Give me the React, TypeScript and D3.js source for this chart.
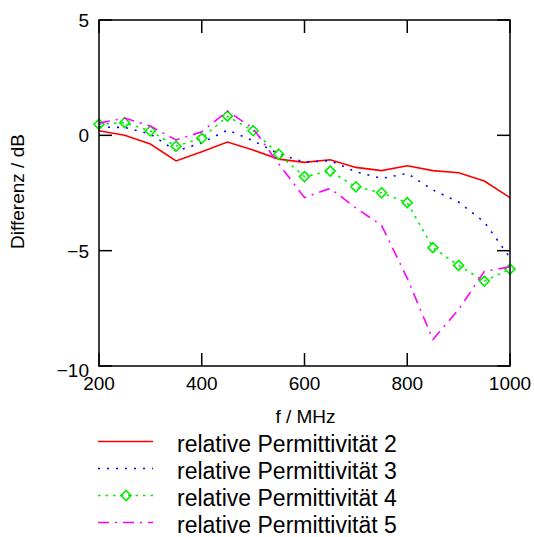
import React from "react";
import * as d3 from "d3";

// frequencies in MHz
const freqs = [200, 250, 300, 350, 400, 450, 500, 550, 600, 650, 700, 750, 800, 850, 900, 950, 1000];

// Differenz in dB for each relative permittivity
const perm2 = [0.2, 0.0, -0.38, -1.11, -0.71, -0.29, -0.64, -1.03, -1.17, -1.06, -1.39, -1.53, -1.32, -1.53, -1.62, -1.98, -2.7];
const perm3 = [0.36, 0.34, 0.06, -0.68, -0.33, 0.23, -0.23, -0.81, -1.16, -1.1, -1.58, -1.87, -1.65, -2.37, -2.89, -3.76, -5.3];
const perm4 = [0.48, 0.55, 0.19, -0.47, -0.13, 0.83, 0.2, -0.82, -1.79, -1.55, -2.23, -2.49, -2.92, -4.87, -5.64, -6.32, -5.8];
const perm5 = [0.53, 0.75, 0.4, -0.2, 0.15, 1.05, 0.3, -1.25, -2.7, -2.3, -3.15, -3.9, -6.2, -8.85, -7.55, -5.9, -5.7];

const xTicks = [200, 400, 600, 800, 1000];
const yTicks = [5, 0, -5, -10];

const seriesNames = [
  "relative Permittivität 2",
  "relative Permittivität 3",
  "relative Permittivität 4",
  "relative Permittivität 5",
];

const styles = [
  { color: "#ff0000", dash: "none", marker: false },
  { color: "#0000ff", dash: "2 7", marker: false },
  { color: "#00ee00", dash: "2.5 5", marker: true },
  { color: "#ff00ff", dash: "11 6 2 6", marker: false },
];

const width = 534;
const height = 537;
const margin = { top: 20, right: 24, bottom: 171, left: 99 };
const font = "'Liberation Sans', Arial, Helvetica, sans-serif";
const tickLen = 13;

function Diamond({ cx, cy, color }: { cx: number; cy: number; color: string }) {
  const r = 5;
  return (
    <path
      d={`M${cx},${cy - r}L${cx + r},${cy}L${cx},${cy + r}L${cx - r},${cy}Z`}
      fill="none"
      stroke={color}
      strokeWidth={1.6}
    />
  );
}

export default function App() {
  const x = d3
    .scaleLinear()
    .domain([200, 1000])
    .range([margin.left, width - margin.right]);
  const y = d3
    .scaleLinear()
    .domain([-10, 5])
    .range([height - margin.bottom, margin.top]);

  const all = [perm2, perm3, perm4, perm5];
  const line = d3
    .line<number>()
    .x((_, i) => x(freqs[i]))
    .y((d) => y(d));

  const x0 = x(200);
  const x1 = x(1000);
  const y0 = y(-10);
  const y1 = y(5);

  const legendX = 98;
  const legendY = 441.5;
  const legendStep = 27;

  return (
    <svg
      width={width}
      height={height}
      style={{ position: "absolute", left: 0, top: 0, background: "#fff" }}
      fontFamily={font}
    >
      {/* series */}
      {all.map((vals, si) => (
        <g key={si}>
          <path
            d={line(vals) || ""}
            fill="none"
            stroke={styles[si].color}
            strokeWidth={1.6}
            strokeDasharray={styles[si].dash}
          />
          {styles[si].marker &&
            vals.map((v, i) => (
              <Diamond key={i} cx={x(freqs[i])} cy={y(v)} color={styles[si].color} />
            ))}
        </g>
      ))}

      {/* frame */}
      <rect x={x0} y={y1} width={x1 - x0} height={y0 - y1} fill="none" stroke="#000" strokeWidth={1.5} />

      {/* x ticks, bottom and top, inward */}
      {xTicks.map((t) => (
        <g key={t}>
          <line x1={x(t)} x2={x(t)} y1={y0} y2={y0 - tickLen} stroke="#000" strokeWidth={1.5} />
          <line x1={x(t)} x2={x(t)} y1={y1} y2={y1 + tickLen} stroke="#000" strokeWidth={1.5} />
          <text x={x(t)} y={y0 + 24} textAnchor="middle" fontSize={19} fill="#000">
            {t}
          </text>
        </g>
      ))}

      {/* y ticks, left and right, inward */}
      {yTicks.map((t) => (
        <g key={t}>
          <line x1={x0} x2={x0 + tickLen} y1={y(t)} y2={y(t)} stroke="#000" strokeWidth={1.5} />
          <line x1={x1} x2={x1 - tickLen} y1={y(t)} y2={y(t)} stroke="#000" strokeWidth={1.5} />
          <text
            x={x0 - 10}
            y={y(t) + (t === -10 ? 11 : 7)}
            textAnchor="end"
            fontSize={19}
            fill="#000"
          >
            {t < 0 ? `\u2212${Math.abs(t)}` : t}
          </text>
        </g>
      ))}

      {/* axis titles */}
      <text x={(x0 + x1) / 2 + 1} y={423} textAnchor="middle" fontSize={19} fill="#000">
        f / MHz
      </text>
      <text
        transform={`translate(24, ${(y0 + y1) / 2 - 1.5}) rotate(-90)`}
        textAnchor="middle"
        fontSize={19}
        fill="#000"
      >
        Differenz / dB
      </text>

      {/* legend */}
      {seriesNames.map((name, i) => {
        const ly = legendY + i * legendStep;
        return (
          <g key={name}>
            <line
              x1={legendX}
              x2={legendX + 55}
              y1={ly}
              y2={ly}
              stroke={styles[i].color}
              strokeWidth={1.6}
              strokeDasharray={styles[i].dash}
            />
            {styles[i].marker && <Diamond cx={legendX + 28} cy={ly} color={styles[i].color} />}
            <text x={legendX + 79} y={ly + 10.5} fontSize={23} fill="#000">
              {name}
            </text>
          </g>
        );
      })}
    </svg>
  );
}
